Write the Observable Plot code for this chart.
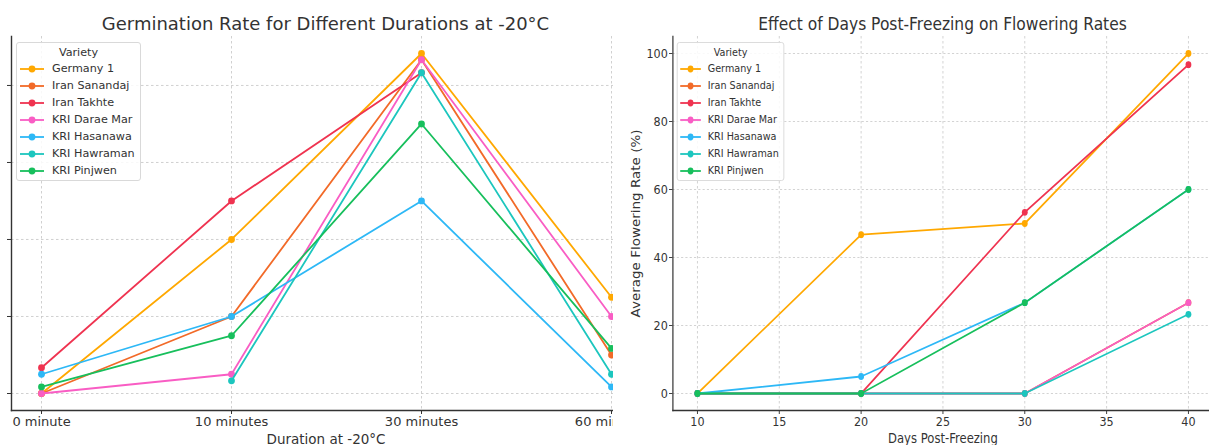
<!DOCTYPE html>
<html>
<head>
<meta charset="utf-8">
<script src="https://cdn.jsdelivr.net/npm/d3@7"></script>
<script src="https://cdn.jsdelivr.net/npm/@observablehq/plot@0.6"></script>
<style>
html,body{margin:0;padding:0;background:#fff;overflow:hidden;}
#root{position:relative;width:1209px;height:445px;overflow:hidden;font-family:"DejaVu Sans",sans-serif;color:#333;}
#left{position:absolute;left:0;top:0;width:613px;height:445px;overflow:hidden;}
#leftInner{position:absolute;left:0;top:0;width:650px;height:445px;}
#rightClip{position:absolute;left:614px;top:0;width:595px;height:445px;overflow:hidden;}
#right{position:absolute;left:0;top:0;width:700px;height:445px;transform:scaleX(0.86);transform-origin:0 0;}
.title{position:absolute;top:15px;font-size:18px;line-height:18px;text-align:center;color:#333;white-space:nowrap;}
.legend{position:absolute;top:42px;width:123px;height:137px;border:1px solid #d9d9d9;border-radius:3px;background:rgba(255,255,255,0.85);font-size:11.2px;color:#333;}
.legend .lt{position:absolute;left:0;top:3px;width:100%;text-align:center;line-height:14px;}
.legend .row{position:absolute;left:0;height:14px;line-height:14px;white-space:nowrap;}
.legend .row svg{position:absolute;left:2px;top:0;}
.legend .row span{position:absolute;left:35px;top:0;}
svg{overflow:visible;}
</style>
</head>
<body>
<div id="root">
  <div id="left"><div id="leftInner"></div></div>
  <div id="rightClip"><div id="right"></div></div>
</div>
<script>
// ---------- shared ----------
const varieties = ["Germany 1", "Iran Sanandaj", "Iran Takhte", "KRI Darae Mar", "KRI Hasanawa", "KRI Hawraman", "KRI Pinjwen"];
const colors = ["#FFA800", "#F26A28", "#EF3350", "#F95DC4", "#2DB8F6", "#1CC6BE", "#17BF5C"];

// ---------- left chart: germination ----------
const durations = ["0 minute", "10 minutes", "30 minutes", "60 minutes"];
const germGermany1     = [0, 40, 88.3, 25];
const germIranSanandaj = [0, 20, 86.7, 10];
const germIranTakhte   = [6.7, 50, 83.3, null];
const germDaraeMar     = [0, 5, 86.7, 20];
const germHasanawa     = [5, 20, 50, 1.7];
const germHawraman     = [null, 3.3, 83.3, 5];
const germPinjwen      = [1.7, 15, 70, 11.7];
const germYTicks = [0, 20, 40, 60, 80];

// ---------- right chart: flowering ----------
const days = [10, 20, 30, 40];
const flowGermany1     = [0, 46.7, 50, 100];
const flowIranSanandaj = [0, 0, 0, 26.7];
const flowIranTakhte   = [0, 0, 53.3, 96.7];
const flowDaraeMar     = [0, 0, 0, 26.7];
const flowHasanawa     = [0, 5, 26.7, 60];
const flowHawraman     = [0, 0, 0, 23.3];
const flowPinjwen      = [0, 0, 26.7, 60];
const flowXTicks = [10, 15, 20, 25, 30, 35, 40];
const flowYTicks = [0, 20, 40, 60, 80, 100];

const germSeries = [germGermany1, germIranSanandaj, germIranTakhte, germDaraeMar, germHasanawa, germHawraman, germPinjwen];
const flowSeries = [flowGermany1, flowIranSanandaj, flowIranTakhte, flowDaraeMar, flowHasanawa, flowHawraman, flowPinjwen];

const germRows = varieties.flatMap((v, i) => durations.map((d, j) => ({variety: v, duration: d, value: germSeries[i][j]})));
const flowRows = varieties.flatMap((v, i) => days.map((d, j) => ({variety: v, day: d, value: flowSeries[i][j]})));

function padDomain(vals) {
  const lo = d3.min(vals), hi = d3.max(vals), p = (hi - lo) * 0.05;
  return [lo - p, hi + p];
}

const gridStyle = {stroke: "#c4c4c4", strokeOpacity: 1, strokeWidth: 0.8, strokeDasharray: "2.5,2.5"};
const spineStyle = {stroke: "#333", strokeWidth: 1.4};
const svgStyle = {fontFamily: "DejaVu Sans, sans-serif", fontSize: "13px", color: "#333", background: "transparent", overflow: "visible", maxWidth: "none"};

function seriesMarks(rows, xKey) {
  return varieties.flatMap(v => [
    Plot.line(rows.filter(d => d.variety === v), {x: xKey, y: "value", stroke: "variety", strokeWidth: 1.8}),
    Plot.dot(rows.filter(d => d.variety === v && d.value != null), {x: xKey, y: "value", fill: "variety", r: 3.4})
  ]);
}

const leftPlot = Plot.plot({
  width: 650, height: 445,
  marginLeft: 11, marginRight: 10, marginTop: 36, marginBottom: 35,
  style: svgStyle,
  x: {type: "point", domain: durations, padding: 0.15},
  y: {domain: padDomain(germRows.filter(d => d.value != null).map(d => d.value))},
  color: {domain: varieties, range: colors},
  marks: [
    Plot.gridX(durations, gridStyle),
    Plot.gridY(germYTicks, gridStyle),
    Plot.axisX({tickSize: 4, tickPadding: 2, label: null, fontSize: 13}),
    Plot.axisX({ticks: [], label: "Duration at -20°C", labelAnchor: "center", labelArrow: "none", labelOffset: 33, fontSize: 13.5}),
    Plot.axisY({ticks: germYTicks, tickSize: 4, tickFormat: () => "", label: null}),
    Plot.frame({anchor: "left", ...spineStyle}),
    Plot.frame({anchor: "bottom", ...spineStyle}),
    ...seriesMarks(germRows, "duration")
  ]
});
document.getElementById("leftInner").appendChild(leftPlot);

const rightPlot = Plot.plot({
  width: 700, height: 445,
  marginLeft: 68, marginRight: 4, marginTop: 36, marginBottom: 35,
  style: svgStyle,
  x: {domain: padDomain(days)},
  y: {domain: padDomain(flowRows.map(d => d.value))},
  color: {domain: varieties, range: colors},
  marks: [
    Plot.gridX(flowXTicks, gridStyle),
    Plot.gridY(flowYTicks, gridStyle),
    Plot.axisX({ticks: flowXTicks, tickSize: 4, tickPadding: 2, label: null, fontSize: 13}),
    Plot.axisX({ticks: [], label: "Days Post-Freezing", labelAnchor: "center", labelArrow: "none", labelOffset: 32, fontSize: 13.5}),
    Plot.axisY({ticks: flowYTicks, tickSize: 4, tickPadding: 2, label: null, fontSize: 13}),
    Plot.axisY({ticks: [], label: "Average Flowering Rate (%)", labelAnchor: "center", labelArrow: "none", labelOffset: 48, fontSize: 13.5}),
    Plot.frame({anchor: "left", ...spineStyle}),
    Plot.frame({anchor: "bottom", ...spineStyle}),
    ...seriesMarks(flowRows, "day")
  ]
});
document.getElementById("right").appendChild(rightPlot);

// ---------- titles ----------
function addTitle(container, text, left, width) {
  const t = document.createElement("div");
  t.className = "title";
  t.textContent = text;
  t.style.left = left + "px";
  t.style.width = width + "px";
  container.appendChild(t);
}
addTitle(document.getElementById("leftInner"), "Germination Rate for Different Durations at -20°C", 11, 629);
addTitle(document.getElementById("right"), "Effect of Days Post-Freezing on Flowering Rates", 68, 628);

// ---------- legends ----------
function addLegend(container, left) {
  const box = document.createElement("div");
  box.className = "legend";
  box.style.left = left + "px";
  const lt = document.createElement("div");
  lt.className = "lt";
  lt.textContent = "Variety";
  box.appendChild(lt);
  varieties.forEach((v, i) => {
    const row = document.createElement("div");
    row.className = "row";
    row.style.top = (19 + 17 * i) + "px";
    row.style.width = "100%";
    const ns = "http://www.w3.org/2000/svg";
    const s = document.createElementNS(ns, "svg");
    s.setAttribute("width", 26); s.setAttribute("height", 14);
    const ln = document.createElementNS(ns, "line");
    ln.setAttribute("x1", 1); ln.setAttribute("x2", 25); ln.setAttribute("y1", 7); ln.setAttribute("y2", 7);
    ln.setAttribute("stroke", colors[i]); ln.setAttribute("stroke-width", 1.8);
    const c = document.createElementNS(ns, "circle");
    c.setAttribute("cx", 13); c.setAttribute("cy", 7); c.setAttribute("r", 3.4); c.setAttribute("fill", colors[i]);
    s.appendChild(ln); s.appendChild(c);
    const sp = document.createElement("span");
    sp.textContent = v;
    row.appendChild(s); row.appendChild(sp);
    box.appendChild(row);
  });
  container.appendChild(box);
}
addLegend(document.getElementById("leftInner"), 16);
addLegend(document.getElementById("right"), 73);
</script>
</body>
</html>
